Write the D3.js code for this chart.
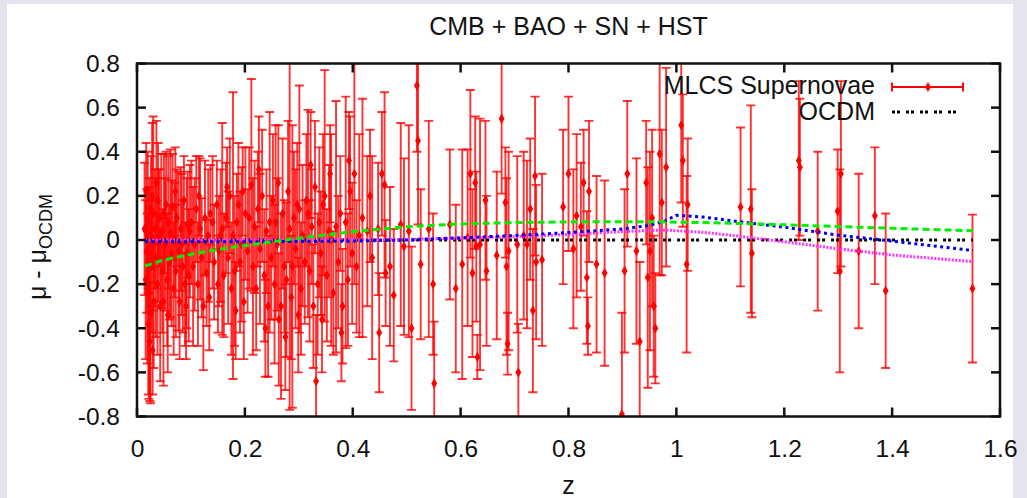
<!DOCTYPE html>
<html>
  <head>
    <meta charset="utf-8">
    <title>CMB + BAO + SN + HST</title>
    <script src="https://d3js.org/d3.v7.min.js"></script>
    <style>
      body { margin: 0; background: #e6e3ef; }
      text { font-family: "Liberation Sans", Arial, sans-serif; fill: #111; }
    </style>
  </head>
  <body>
    <script>

      // supernovae, [z, mu - mu_OCDM, error], split by redshift range
      var sn0 = [
        [0.014, 0.05, 0.30], [0.016, -0.18, 0.36], [0.018, -0.05, 0.28], [0.019, -0.22, 0.34],
        [0.020, 0.10, 0.30], [0.021, -0.38, 0.32], [0.022, -0.24, 0.48], [0.023, 0.02, 0.26],
        [0.024, -0.46, 0.27], [0.025, -0.33, 0.41], [0.026, 0.14, 0.24], [0.027, -0.12, 0.30],
        [0.028, 0.20, 0.33], [0.030, 0.12, 0.44], [0.031, -0.28, 0.30], [0.033, 0.05, 0.27],
        [0.035, -0.08, 0.36], [0.036, 0.26, 0.28], [0.038, -0.20, 0.32], [0.040, 0.02, 0.30],
        [0.042, 0.10, 0.22], [0.043, -0.30, 0.34], [0.045, 0.04, 0.35], [0.047, -0.14, 0.28],
        [0.049, -0.28, 0.38], [0.050, 0.12, 0.27], [0.052, -0.02, 0.30], [0.054, 0.16, 0.24],
        [0.056, -0.18, 0.30], [0.058, 0.08, 0.30], [0.060, -0.10, 0.26], [0.062, 0.03, 0.38],
        [0.064, -0.06, 0.33], [0.066, 0.15, 0.24], [0.068, -0.22, 0.30], [0.070, 0.00, 0.26],
        [0.072, -0.14, 0.30], [0.074, 0.10, 0.22], [0.077, -0.05, 0.36], [0.079, -0.28, 0.26],
        [0.081, 0.05, 0.28], [0.083, -0.02, 0.32], [0.085, -0.12, 0.30], [0.087, 0.18, 0.20],
        [0.089, -0.20, 0.28], [0.092, -0.06, 0.34], [0.094, 0.07, 0.24], [0.096, -0.16, 0.30],
        [0.098, 0.04, 0.30], [0.017, 0.22, 0.22], [0.029, -0.50, 0.20], [0.039, 0.18, 0.26],
        [0.057, -0.34, 0.26], [0.071, 0.22, 0.20], [0.091, -0.30, 0.24]
      ];
      var sn1 = [
        [0.101, 0.08, 0.28], [0.104, -0.12, 0.36], [0.107, -0.02, 0.30], [0.110, 0.14, 0.24],
        [0.113, -0.20, 0.28], [0.117, 0.05, 0.32], [0.120, -0.08, 0.27], [0.123, -0.30, 0.29],
        [0.126, 0.10, 0.26], [0.129, -0.15, 0.24], [0.132, 0.02, 0.30], [0.136, 0.12, 0.22],
        [0.140, 0.08, 0.30], [0.143, -0.10, 0.26], [0.148, 0.16, 0.20], [0.152, -0.05, 0.25],
        [0.155, 0.02, 0.30], [0.158, 0.05, 0.48], [0.161, -0.16, 0.28], [0.165, 0.10, 0.25],
        [0.169, -0.08, 0.30], [0.172, 0.20, 0.26], [0.175, -0.22, 0.30], [0.178, 0.02, 0.65],
        [0.181, -0.14, 0.34], [0.185, 0.08, 0.22], [0.188, 0.16, 0.28], [0.191, -0.10, 0.32],
        [0.194, -0.02, 0.35], [0.198, -0.28, 0.26], [0.201, 0.12, 0.30], [0.205, -0.05, 0.28],
        [0.115, 0.20, 0.18], [0.134, -0.26, 0.24], [0.150, -0.20, 0.22], [0.167, 0.24, 0.18],
        [0.183, -0.32, 0.22], [0.196, 0.22, 0.20]
      ];
      var sn2 = [
        [0.208, 0.10, 0.32], [0.212, 0.25, 0.48], [0.215, -0.12, 0.40], [0.218, 0.06, 0.30],
        [0.221, -0.22, 0.28], [0.224, 0.14, 0.26], [0.228, -0.04, 0.34], [0.232, 0.20, 0.30],
        [0.236, -0.16, 0.30], [0.240, 0.04, 0.28], [0.243, -0.30, 0.32], [0.246, 0.08, 0.50],
        [0.249, -0.08, 0.28], [0.252, 0.18, 0.30], [0.255, -0.20, 0.36], [0.257, 0.08, 0.44],
        [0.260, -0.02, 0.30], [0.263, -0.36, 0.30], [0.267, -0.30, 0.42], [0.270, 0.12, 0.34],
        [0.273, -0.12, 0.30], [0.277, -0.18, 0.35], [0.280, 0.22, 0.32], [0.283, 0.05, 0.82],
        [0.286, -0.26, 0.28], [0.288, -0.12, 0.64], [0.291, 0.10, 0.30], [0.294, -0.04, 0.36],
        [0.297, 0.16, 0.28], [0.301, 0.14, 0.56], [0.304, -0.22, 0.30], [0.307, 0.02, 0.32],
        [0.311, -0.10, 0.28], [0.314, 0.18, 0.30], [0.317, 0.12, 0.47], [0.320, -0.14, 0.32],
        [0.324, 0.06, 0.26], [0.327, -0.30, 0.28], [0.330, 0.24, 0.30], [0.332, -0.64, 0.30],
        [0.335, -0.20, 0.32], [0.338, 0.08, 0.34], [0.341, -0.06, 0.28], [0.345, 0.16, 0.32],
        [0.348, 0.20, 0.57], [0.352, -0.16, 0.30], [0.356, 0.04, 0.30], [0.360, 0.00, 0.48],
        [0.364, -0.24, 0.28], [0.369, 0.06, 0.57], [0.373, -0.10, 0.30], [0.377, 0.12, 0.26],
        [0.381, -0.30, 0.26], [0.387, 0.08, 0.57], [0.391, -0.18, 0.30], [0.395, 0.22, 0.34],
        [0.399, -0.06, 0.32], [0.403, 0.30, 0.50], [0.407, -0.12, 0.30], [0.412, 0.02, 0.46],
        [0.226, 0.32, 0.24], [0.238, -0.40, 0.22], [0.262, 0.26, 0.26], [0.275, -0.44, 0.24],
        [0.299, -0.34, 0.26], [0.322, 0.34, 0.24], [0.343, -0.36, 0.24], [0.358, 0.30, 0.22],
        [0.379, -0.42, 0.22], [0.393, 0.36, 0.22]
      ];
      var sn3 = [
        [0.418, 0.10, 0.54], [0.427, 0.04, 0.34], [0.432, 0.20, 0.30], [0.436, -0.08, 0.46],
        [0.447, 0.05, 0.30], [0.449, -0.42, 0.27], [0.454, 0.30, 0.28], [0.459, 0.25, 0.42],
        [0.461, -0.15, 0.24], [0.469, -0.12, 0.36], [0.476, -0.25, 0.30], [0.489, 0.07, 0.46],
        [0.495, -0.03, 0.40], [0.504, 0.04, 0.48], [0.509, -0.40, 0.37], [0.519, 0.70, 0.30],
        [0.521, 0.45, 0.38], [0.526, -0.11, 0.34], [0.541, 0.05, 0.49], [0.549, -0.20, 0.32],
        [0.551, -0.65, 0.28], [0.580, 0.07, 0.34], [0.591, -0.22, 0.38], [0.603, -0.11, 0.52],
        [0.613, 0.01, 0.40], [0.618, 0.30, 0.38], [0.622, -0.15, 0.38]
      ];
      var sn4 = [
        [0.627, 0.26, 0.30], [0.629, -0.03, 0.34], [0.631, -0.53, 0.10], [0.636, -0.02, 0.57],
        [0.646, 0.18, 0.36], [0.648, -0.14, 0.34], [0.667, -0.07, 0.38], [0.676, 0.55, 0.34],
        [0.683, 0.17, 0.25], [0.685, -0.12, 0.40], [0.687, -0.47, 0.14], [0.689, -0.05, 0.45],
        [0.705, -0.02, 0.40], [0.707, -0.60, 0.22], [0.717, 0.02, 0.38], [0.723, -0.02, 0.38],
        [0.729, 0.14, 0.32], [0.734, -0.32, 0.37], [0.738, 0.29, 0.36], [0.740, -0.10, 0.35],
        [0.751, -0.09, 0.39], [0.790, 0.15, 0.35], [0.800, 0.30, 0.35], [0.809, -0.04, 0.36],
        [0.815, 0.11, 0.37], [0.823, 0.06, 0.29], [0.828, 0.26, 0.24], [0.834, -0.17, 0.30]
      ];
      var sn5 = [
        [0.836, -0.39, 0.13], [0.838, 0.22, 0.32], [0.852, -0.11, 0.40], [0.867, -0.15, 0.42],
        [0.899, -0.79, 0.46], [0.904, -0.14, 0.37], [0.909, 0.30, 0.33], [0.926, -0.05, 0.42],
        [0.932, -0.46, 0.36], [0.944, 0.26, 0.28], [0.947, -0.17, 0.50], [0.951, -0.05, 0.45],
        [0.955, 0.10, 0.40], [0.958, -0.30, 0.32], [0.961, -0.40, 0.25], [0.969, 0.39, 0.55],
        [0.973, 0.17, 0.33], [0.981, 0.33, 0.45], [1.009, 0.52, 0.35], [1.012, 0.36, 0.30],
        [1.019, -0.11, 0.40], [1.021, 0.16, 0.30]
      ];
      var sn6 = [
        [1.119, 0.15, 0.36], [1.138, 0.14, 0.47], [1.140, -0.06, 0.29], [1.227, 0.36, 0.36],
        [1.229, 0.33, 0.31], [1.262, 0.04, 0.36], [1.299, 0.13, 0.28], [1.303, -0.14, 0.46],
        [1.305, 0.30, 0.42], [1.338, -0.05, 0.35], [1.368, 0.11, 0.31], [1.388, -0.23, 0.35],
        [1.549, -0.22, 0.335]
      ];

      // model curves relative to OCDM
      var modelZ  = [0.015, 0.05, 0.1, 0.15, 0.2, 0.3, 0.4, 0.5, 0.6, 0.7, 0.8, 0.9, 0.95, 0.98, 1.0, 1.05, 1.1, 1.2, 1.3, 1.4, 1.55];
      var ocdm    = [0, 0, 0, 0, 0, 0, 0, 0, 0, 0, 0, 0, 0, 0, 0, 0, 0, 0, 0, 0, 0];
      var green   = [-0.118, -0.09, -0.065, -0.043, -0.025, 0.008, 0.038, 0.06, 0.073, 0.079, 0.082, 0.083, 0.083, 0.082, 0.081, 0.079, 0.076, 0.069, 0.061, 0.053, 0.042];
      var blue    = [-0.008, -0.008, -0.008, -0.008, -0.008, -0.007, -0.005, 0.0, 0.01, 0.02, 0.034, 0.05, 0.066, 0.088, 0.112, 0.104, 0.088, 0.058, 0.022, -0.005, -0.048];
      var magenta = [0, 0, 0, 0, 0, 0, 0.001, 0.003, 0.008, 0.015, 0.025, 0.038, 0.043, 0.045, 0.042, 0.035, 0.022, -0.008, -0.04, -0.068, -0.098];

      var xTicks = [0, 0.2, 0.4, 0.6, 0.8, 1, 1.2, 1.4, 1.6];
      var yTicks = [-0.8, -0.6, -0.4, -0.2, 0, 0.2, 0.4, 0.6, 0.8];

      var supernovae = sn0.concat(sn1, sn2, sn3, sn4, sn5, sn6);

      // plot size
      var w_svg = 1027;
      var h_svg = 498;
      var plotLeft = 137, plotRight = 1000, plotTop = 63.5, plotBottom = 416.5;
      var tickLen = 9;

      var svg = d3.select("body")
        .append("svg")
        .attr("width", w_svg)
        .attr("height", h_svg)
        .style("display", "block");

      // white panel on lavender page
      svg.append("rect")
        .attr("x", 7).attr("y", 4)
        .attr("width", 1006).attr("height", h_svg - 4)
        .attr("fill", "#fff");

      var x_scale = d3.scaleLinear().domain([0, 1.6]).range([plotLeft, plotRight]);
      var y_scale = d3.scaleLinear().domain([-0.8, 0.8]).range([plotBottom, plotTop]);

      svg.append("defs").append("clipPath").attr("id", "plotclip")
        .append("rect")
        .attr("x", plotLeft).attr("y", plotTop)
        .attr("width", plotRight - plotLeft).attr("height", plotBottom - plotTop);

      var plot = svg.append("g").attr("clip-path", "url(#plotclip)");

      // error bars
      var bars = plot.append("g")
        .attr("stroke", "#ff0000")
        .attr("stroke-width", 1.9)
        .attr("stroke-opacity", 0.8)
        .attr("fill", "none");

      var sn = bars.selectAll("g")
        .data(supernovae)
        .enter()
        .append("g");

      sn.append("line")
        .attr("x1", function(d) { return x_scale(d[0]); })
        .attr("x2", function(d) { return x_scale(d[0]); })
        .attr("y1", function(d) { return y_scale(d[1] + d[2]); })
        .attr("y2", function(d) { return y_scale(d[1] - d[2]); });

      sn.append("line")
        .attr("x1", function(d) { return x_scale(d[0]) - 4.5; })
        .attr("x2", function(d) { return x_scale(d[0]) + 4.5; })
        .attr("y1", function(d) { return y_scale(d[1] + d[2]); })
        .attr("y2", function(d) { return y_scale(d[1] + d[2]); });

      sn.append("line")
        .attr("x1", function(d) { return x_scale(d[0]) - 4.5; })
        .attr("x2", function(d) { return x_scale(d[0]) + 4.5; })
        .attr("y1", function(d) { return y_scale(d[1] - d[2]); })
        .attr("y2", function(d) { return y_scale(d[1] - d[2]); });

      sn.append("path")
        .attr("d", d3.symbol().type(d3.symbolDiamond).size(30))
        .attr("transform", function(d) { return "translate(" + x_scale(d[0]) + "," + y_scale(d[1]) + ")"; })
        .attr("fill", "#ff0000")
        .attr("stroke", "none");

      // model lines
      function modelLine(values, color, dash) {
        var line = d3.line()
          .x(function(d, i) { return x_scale(modelZ[i]); })
          .y(function(d) { return y_scale(d); });
        plot.append("path")
          .datum(values)
          .attr("d", line)
          .attr("fill", "none")
          .attr("stroke", color)
          .attr("stroke-width", 3)
          .attr("stroke-dasharray", dash);
      }

      modelLine(ocdm, "#000000", "3,2,3,6");
      modelLine(magenta, "#ff33ff", "2,1.5");
      modelLine(blue, "#0000ee", "3,3.5");
      modelLine(green, "#00ee00", "7,4");

      // axis labels from d3 axes
      var frame = svg.append("g");
      var tickText = function(d) { return String(d); };

      frame.append("g")
        .attr("transform", "translate(0," + plotBottom + ")")
        .call(d3.axisBottom(x_scale).tickValues(xTicks).tickSize(0).tickPadding(23).tickFormat(tickText));
      frame.append("g")
        .attr("transform", "translate(" + plotLeft + ",0)")
        .call(d3.axisLeft(y_scale).tickValues(yTicks).tickSize(0).tickPadding(17).tickFormat(tickText));

      frame.selectAll(".domain").remove();
      frame.selectAll(".tick line").remove();
      frame.selectAll(".tick text")
        .style("font-family", "'Liberation Sans', Arial, sans-serif")
        .style("font-size", "24.5px")
        .attr("fill", "#111");

      // inward ticks on all four sides, as small filled rects
      var tickMarks = svg.append("g").attr("fill", "#111");
      xTicks.forEach(function(t) {
        tickMarks.append("rect").attr("x", x_scale(t) - 1.25).attr("y", plotBottom - tickLen).attr("width", 2.5).attr("height", tickLen);
        tickMarks.append("rect").attr("x", x_scale(t) - 1.25).attr("y", plotTop).attr("width", 2.5).attr("height", tickLen);
      });
      yTicks.forEach(function(t) {
        tickMarks.append("rect").attr("x", plotLeft).attr("y", y_scale(t) - 1.25).attr("width", tickLen).attr("height", 2.5);
        tickMarks.append("rect").attr("x", plotRight - tickLen).attr("y", y_scale(t) - 1.25).attr("width", tickLen).attr("height", 2.5);
      });

      svg.append("rect")
        .attr("x", plotLeft).attr("y", plotTop)
        .attr("width", plotRight - plotLeft).attr("height", plotBottom - plotTop)
        .attr("fill", "none")
        .attr("stroke", "#111")
        .attr("stroke-width", 2.5);

      // titles
      svg.append("text")
        .attr("x", (plotLeft + plotRight) / 2)
        .attr("y", 35)
        .attr("text-anchor", "middle")
        .style("font-size", "25px")
        .text("CMB + BAO + SN + HST");

      svg.append("text")
        .attr("x", (plotLeft + plotRight) / 2)
        .attr("y", 494)
        .attr("text-anchor", "middle")
        .style("font-size", "25px")
        .text("z");

      var ylab = svg.append("text")
        .attr("transform", "translate(46,247) rotate(-90)")
        .attr("text-anchor", "middle")
        .style("font-size", "25px");
      ylab.append("tspan").text("\u03bc - \u03bc");
      ylab.append("tspan").attr("dy", 6).style("font-size", "18px").text("OCDM");

      // legend
      var legend = svg.append("g");
      legend.append("text")
        .attr("x", 875).attr("y", 94)
        .attr("text-anchor", "end")
        .style("font-size", "25px")
        .text("MLCS Supernovae");
      legend.append("text")
        .attr("x", 875).attr("y", 120)
        .attr("text-anchor", "end")
        .style("font-size", "25px")
        .text("OCDM");

      var key = legend.append("g").attr("stroke", "#ff0000").attr("stroke-width", 1.9);
      key.append("line").attr("x1", 892).attr("x2", 963).attr("y1", 87).attr("y2", 87);
      key.append("line").attr("x1", 892).attr("x2", 892).attr("y1", 82.5).attr("y2", 91.5);
      key.append("line").attr("x1", 963).attr("x2", 963).attr("y1", 82.5).attr("y2", 91.5);
      key.append("path")
        .attr("d", d3.symbol().type(d3.symbolDiamond).size(30))
        .attr("transform", "translate(928,87)")
        .attr("fill", "#ff0000").attr("stroke", "none");

      legend.append("line")
        .attr("x1", 892).attr("x2", 960).attr("y1", 112).attr("y2", 112)
        .attr("stroke", "#000")
        .attr("stroke-width", 3)
        .attr("stroke-dasharray", "3,2,3,6");

    </script>
  </body>
</html>
